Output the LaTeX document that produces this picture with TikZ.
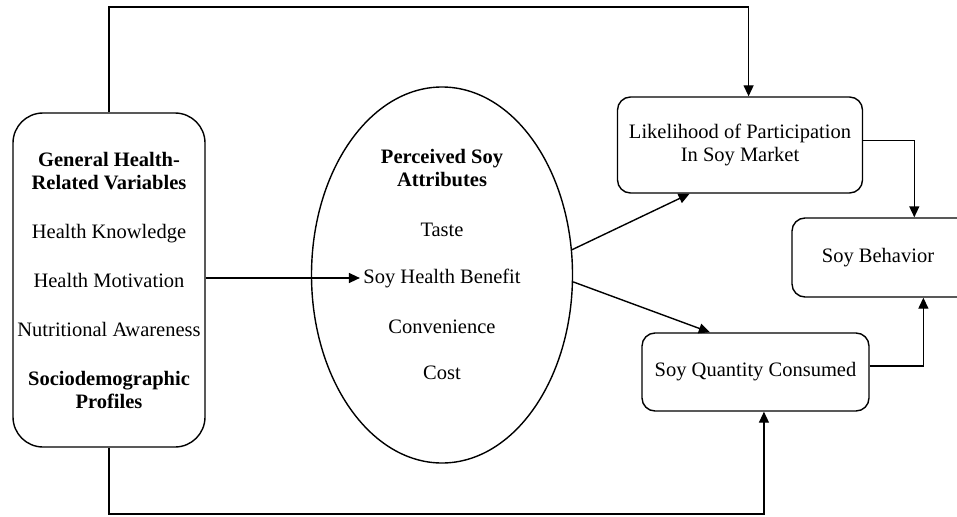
\documentclass[tikz,border=0pt]{standalone}
\usepackage{fontspec}
\setmainfont{Liberation Serif}
\usetikzlibrary{shapes.geometric,arrows.meta}
\tikzset{
    box/.style={draw,line width=1.4pt,rounded corners=#1,align=center},
    box/.default=13pt,
    link/.style={line width=1.4pt,-{Triangle[length=11pt,width=10pt]}},
}
\begin{document}
\begin{tikzpicture}[x=1pt,y=-1pt,font=\fontsize{20.5}{23}\selectfont]
        \useasboundingbox (0,0) rectangle (957,516);
        \coordinate (ceil) at (0,7);
        \coordinate (floor) at (0,514);
        %% Health variables
        \node[box=30pt,minimum width=192pt,minimum height=334pt] (health) at (109,280)
            {\textbf{General Health-}\\\textbf{Related Variables}\\[26pt]
             Health Knowledge\\[26pt] Health Motivation\\[26pt]
             Nutritional Awareness\\[26pt]
             \textbf{Sociodemographic}\\\textbf{Profiles}};
        %% Soy attributes
        \node[ellipse,draw,line width=1.4pt,minimum width=261pt,minimum height=376pt] (attr) at (442,275) {};
        \node[align=center,font=\fontsize{20.5}{23}\selectfont\bfseries] (percv) at (442,168) {Perceived Soy\\Attributes};
        \node (taste) at (442,230) {Taste};
        \node (benefit) at (442,278) {Soy Health Benefit};
        \node (conv) at (442,327) {Convenience};
        \node (cost) at (442,373) {Cost};
        %% Outcomes (behaviour box runs off the right edge)
        \node[box,minimum width=245pt,minimum height=96pt] (market) at (740,145) {Likelihood of Participation\\In Soy Market};
        \node[box,minimum width=227pt,minimum height=78pt] (qty) at (755.5,372) {Soy Quantity Consumed};
        \node[box,minimum width=220pt,minimum height=79pt] (behav) at (902,257.5) {};
        \node (behavtxt) at (878,257.5) {Soy Behavior};
        %% Links
        \draw[link] (health.north) -- (health.north |- ceil) -| (market.80);
        \draw[link] (health.south) -- (health.south |- floor) -| (qty.-78);
        \draw[link] (health.east |- benefit.west) -- (benefit.west);
        \draw[link] (attr.11) -- (market.-136);
        \draw[link] (attr.-3) -- (qty.139);
        \draw[link] (market.2) -| (behav.73);
        \draw[link] (qty.3) -| (behav.-62);
    \end{tikzpicture}
\end{document}
